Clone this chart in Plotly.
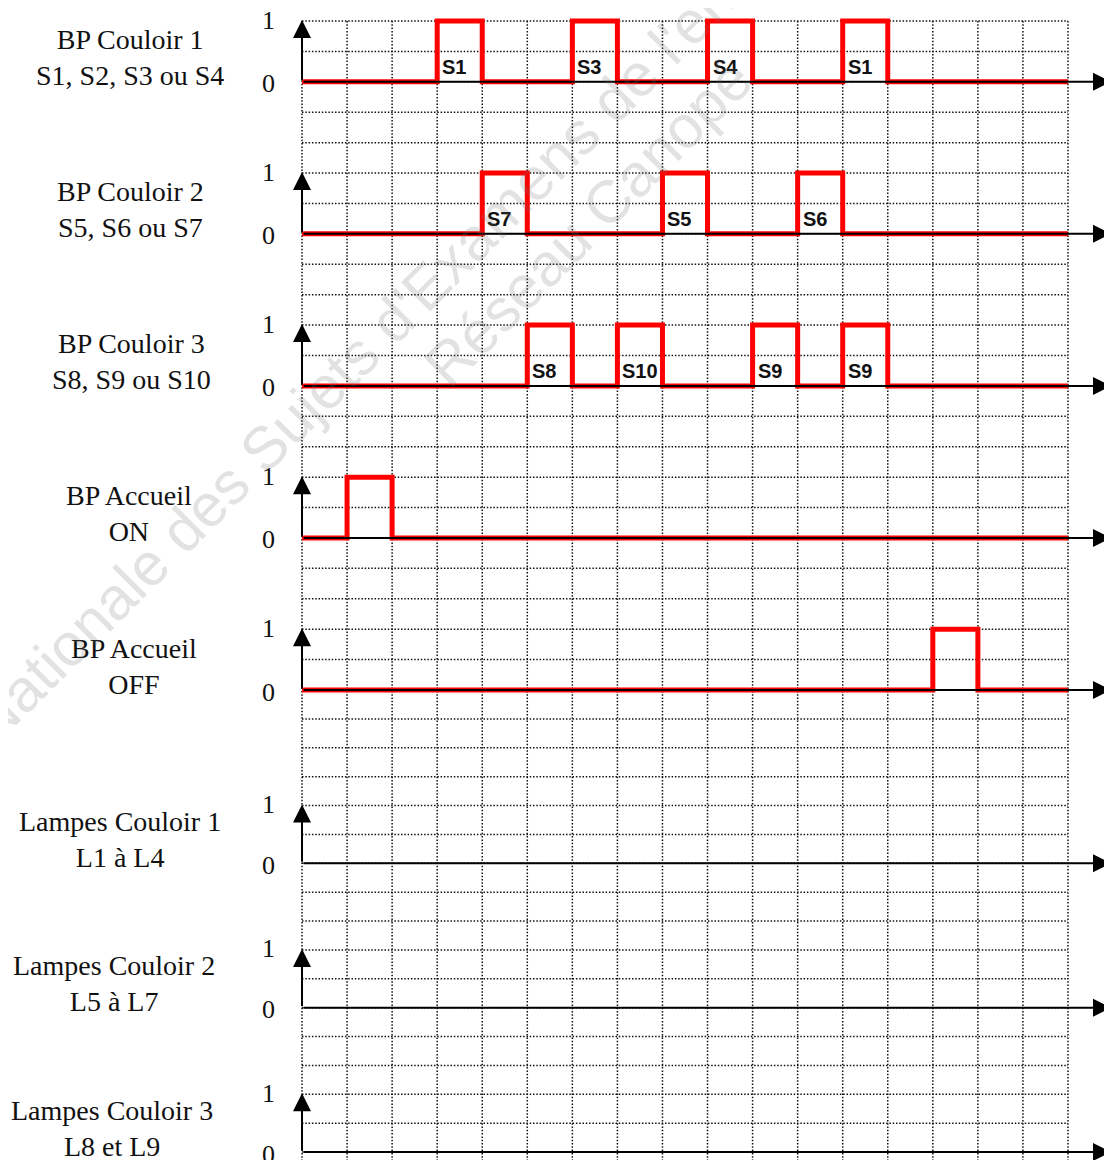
import plotly.graph_objects as go

# ---------------- data ----------------
signal_titles = ["BP Couloir 1", "BP Couloir 2", "BP Couloir 3", "BP Accueil", "BP Accueil",
                 "Lampes Couloir 1", "Lampes Couloir 2", "Lampes Couloir 3"]
signal_subtitles = ["S1, S2, S3 ou S4", "S5, S6 ou S7", "S8, S9 ou S10", "ON", "OFF",
                    "L1 à L4", "L5 à L7", "L8 et L9"]
# start (in time steps) of each 1-step-wide pulse
pulse_starts = [[3, 6, 9, 12], [4, 8, 11], [5, 7, 10, 12], [1], [14], [], [], []]
pulse_labels = [["S1", "S3", "S4", "S1"], ["S7", "S5", "S6"], ["S8", "S10", "S9", "S9"],
                [""], [""], [], [], []]
level_ticks = ["0", "1"]
n_steps = 17
watermark_lines = ["Base Nationale des Sujets d'Examens de l'enseignement professionnel",
                   "Réseau Canopé"]

# ---------------- layout helpers ----------------
W, H = 1112, 1160
OFF = 8                                  # page body margin
WF, HF = W - OFF, H - OFF                # figure size
X0, DX = 302.0, 766.0 / 17.0            # page pixel of step 0, pixels per step
base_rows = [2, 7, 12, 17, 22, 28, 33, 38]   # grid-row index of each baseline
label_cx = [130, 130, 131, 129, 134, 120, 114, 112]


def px(xp):
    """page x pixel -> paper fraction"""
    return (xp - OFF) / WF


def row_y(i):
    if i <= 22:
        return 21 + i * (690 - 21) / 22.0
    return 690 + (i - 22) * (1152 - 690) / 16.0


fig = go.Figure()
shapes = []
annotations = []

grid_style = dict(color="#111111", width=1.5, dash="1.5px,1.8px")
# horizontal dotted grid
for i in range(0, 40):
    y = row_y(i)
    if y > H:
        break
    shapes.append(dict(type="line", xref="x", yref="y", x0=0, x1=n_steps, y0=y, y1=y,
                       line=grid_style, layer="below"))
# vertical dotted grid
for c in range(0, n_steps + 1):
    shapes.append(dict(type="line", xref="x", yref="y", x0=c, x1=c, y0=row_y(0), y1=H + 5,
                       line=grid_style, layer="below"))

x_tip = (1111 - X0) / DX

for k, title in enumerate(signal_titles):
    b = base_rows[k]
    y0 = row_y(b)
    y1 = row_y(b - 2)
    starts = pulse_starts[k]
    # red waveform
    if k < 5:
        xs, lv = [0], [0]
        for s in starts:
            xs += [s, s, s + 1, s + 1]
            lv += [0, 1, 1, 0]
        xs.append(n_steps)
        lv.append(0)
        ys = [y0 - v * (y0 - y1) for v in lv]
        fig.add_trace(go.Scatter(x=xs, y=ys, mode="lines",
                                 line=dict(color="#ff0000", width=5),
                                 hoverinfo="skip", showlegend=False))
        for s, lab in zip(starts, pulse_labels[k]):
            if lab:
                annotations.append(dict(x=s, y=y0 - 15, xref="x", yref="y", text=lab,
                                        showarrow=False, xanchor="left", xshift=3,
                                        yanchor="middle",
                                        font=dict(family="Liberation Sans", size=20,
                                                  color="#111111", weight="bold")))
    # horizontal time axis with arrow
    annotations.append(dict(x=x_tip, y=y0, ax=0, ay=y0, xref="x", yref="y",
                            axref="x", ayref="y", text="", showarrow=True,
                            arrowhead=2, arrowsize=1.8, arrowwidth=2, arrowcolor="#000000",
                            standoff=0, startstandoff=0))
    # vertical level axis with arrow
    annotations.append(dict(x=0, y=y1 - 1, ax=0, ay=y0, xref="x", yref="y",
                            axref="x", ayref="y", text="", showarrow=True,
                            arrowhead=2, arrowsize=1.8, arrowwidth=2, arrowcolor="#000000",
                            standoff=0, startstandoff=0))
    # level ticks "0" and "1"
    annotations.append(dict(x=px(268), y=y0 + 2, xref="paper", yref="y", text=level_ticks[0],
                            showarrow=False, xanchor="center", yanchor="middle",
                            font=dict(family="Liberation Serif", size=26, color="#111111")))
    annotations.append(dict(x=px(268), y=y1 - 1, xref="paper", yref="y", text=level_ticks[1],
                            showarrow=False, xanchor="center", yanchor="middle",
                            font=dict(family="Liberation Serif", size=26, color="#111111")))
    # signal name
    annotations.append(dict(x=px(label_cx[k]), y=y0 - 24, xref="paper", yref="y",
                            text=title + "<br>" + signal_subtitles[k],
                            showarrow=False, xanchor="center", yanchor="middle", align="center",
                            font=dict(family="Liberation Serif", size=28, color="#111111")))

# faint watermark
wm_font = dict(family="Liberation Sans", size=60, color="rgba(110,110,110,0.2)")
annotations.append(dict(x=px(539), y=173, xref="paper", yref="y", text=watermark_lines[0],
                        showarrow=False, textangle=-45, xanchor="center", yanchor="middle",
                        font=wm_font))
annotations.append(dict(x=px(588), y=222, xref="paper", yref="y", text=watermark_lines[1],
                        showarrow=False, textangle=-45, xanchor="center", yanchor="middle",
                        font=wm_font))

fig.update_layout(
    width=WF, height=HF,
    margin=dict(l=0, r=0, t=0, b=0),
    paper_bgcolor="white", plot_bgcolor="white",
    showlegend=False,
    shapes=shapes, annotations=annotations,
    xaxis=dict(range=[(OFF - X0) / DX, (OFF + WF - X0) / DX], visible=False, fixedrange=True),
    yaxis=dict(range=[OFF + HF, OFF], visible=False, fixedrange=True),
)

fig.write_html("out.html")
